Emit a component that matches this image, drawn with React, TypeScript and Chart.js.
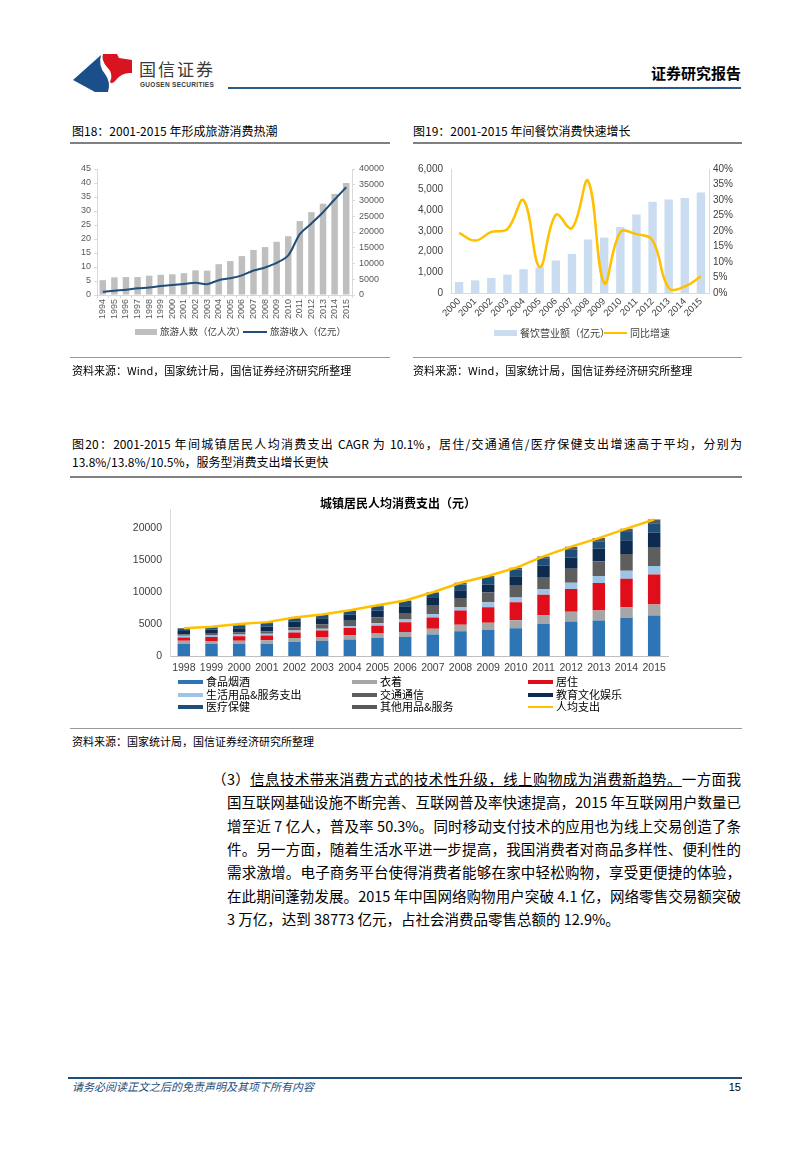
import React, { useEffect, useRef } from 'react';
import { Chart, registerables } from 'chart.js';

Chart.register(...registerables);

const CJK = '"Noto Sans CJK SC", "Noto Sans", sans-serif';
const LATIN = '"Liberation Sans", Arial, sans-serif';

// ---------- Figure 18 ----------
const tourYears = ['1994', '1995', '1996', '1997', '1998', '1999', '2000', '2001', '2002', '2003', '2004', '2005', '2006', '2007', '2008', '2009', '2010', '2011', '2012', '2013', '2014', '2015'];
const tourVisitors = [5.3, 6.3, 6.4, 6.4, 6.9, 7.2, 7.4, 7.8, 8.8, 8.7, 11.0, 12.1, 13.9, 16.1, 17.1, 19.0, 21.0, 26.4, 29.6, 32.6, 36.1, 40.0];
const tourRevenue = [1020, 1380, 1640, 2110, 2390, 2830, 3180, 3520, 3880, 3440, 4710, 5290, 6230, 7770, 8750, 10180, 12580, 19310, 22710, 26280, 30310, 34200];
const tourLeftTicks = [0, 5, 10, 15, 20, 25, 30, 35, 40, 45];
const tourRightTicks = [0, 5000, 10000, 15000, 20000, 25000, 30000, 35000, 40000];

// ---------- Figure 19 ----------
const cateringYears = ['2000', '2001', '2002', '2003', '2004', '2005', '2006', '2007', '2008', '2009', '2010', '2011', '2012', '2013', '2014', '2015'];
const cateringRevenue = [530, 610, 730, 890, 1150, 1240, 1570, 1890, 2590, 2680, 3190, 3800, 4410, 4520, 4600, 4860];
const cateringGrowth = [19.4, 16.9, 19.7, 20.6, 29.9, 8.4, 25.2, 20.9, 36.2, 3.2, 19.6, 19.0, 17.0, 1.6, 2.1, 5.4];

// ---------- Figure 20 ----------
const urbanYears = ['1998', '1999', '2000', '2001', '2002', '2003', '2004', '2005', '2006', '2007', '2008', '2009', '2010', '2011', '2012', '2013', '2014', '2015'];
const food = [1940, 1940, 1940, 1940, 2240, 2350, 2600, 2810, 2960, 3370, 3880, 4080, 4340, 5000, 5410, 5571, 6000, 6360];
const clothing = [460, 410, 460, 510, 570, 610, 670, 710, 820, 920, 1020, 1120, 1270, 1380, 1530, 1554, 1627, 1701];
const housing = [510, 610, 710, 760, 860, 1020, 1120, 1220, 1530, 1730, 2240, 2450, 2810, 3210, 3570, 4301, 4490, 4726];
const household = [250, 250, 260, 260, 310, 310, 300, 410, 400, 510, 560, 770, 760, 920, 970, 1129, 1233, 1306];
const transport = [210, 260, 300, 410, 510, 660, 820, 920, 1020, 1330, 1380, 1530, 1840, 1890, 2190, 2318, 2637, 2895];
const education = [560, 660, 670, 760, 920, 970, 970, 1020, 1080, 1240, 1220, 1270, 1480, 1780, 1790, 1988, 2142, 2383];
const healthcare = [300, 310, 400, 360, 460, 510, 610, 720, 800, 800, 920, 1020, 1020, 1130, 1270, 1136, 1306, 1443];
const otherGoods = [110, 150, 260, 310, 160, 80, 100, 130, 90, 100, 260, 310, 310, 300, 410, 490, 533, 578];
const perCapita = [4340, 4590, 5000, 5310, 6030, 6510, 7190, 7940, 8700, 10000, 11480, 12550, 13830, 15610, 17140, 18488, 19968, 21392];
const urbanTicks = [0, 5000, 10000, 15000, 20000];

const urbanSeries = [
  { label: '食品烟酒', data: food, color: '#2e75b6' },
  { label: '衣着', data: clothing, color: '#a6a6a6' },
  { label: '居住', data: housing, color: '#e00d1b' },
  { label: '生活用品&服务支出', data: household, color: '#9dc3e6' },
  { label: '交通通信', data: transport, color: '#5e5e5e' },
  { label: '教育文化娱乐', data: education, color: '#0d2b4e' },
  { label: '医疗保健', data: healthcare, color: '#1f4e79' },
  { label: '其他用品&服务', data: otherGoods, color: '#595959' },
];

function ChartBox({ config, left, top, width, height }: any) {
  const ref = useRef<HTMLCanvasElement>(null);
  useEffect(() => {
    const chart = new Chart(ref.current as HTMLCanvasElement, config);
    return () => chart.destroy();
  }, []);
  return (
    <div style={{ position: 'absolute', left, top, width, height }}>
      <canvas ref={ref} width={width} height={height} style={{ width, height, display: 'block' }} />
    </div>
  );
}

const tickFont = (size: number) => ({ family: LATIN, size });
const plain = (v: any) => String(v);

const fig18Config: any = {
  type: 'bar',
  data: {
    labels: tourYears,
    datasets: [
      { type: 'line', label: '旅游收入（亿元）', data: tourRevenue, yAxisID: 'y1', borderColor: '#1f4e79', borderWidth: 2, pointRadius: 0, tension: 0.3, order: 0 },
      { type: 'bar', label: '旅游人数（亿人次）', data: tourVisitors, yAxisID: 'y', backgroundColor: '#bfbfbf', barPercentage: 0.56, categoryPercentage: 1, order: 1 },
    ],
  },
  options: {
    responsive: false, animation: false, devicePixelRatio: 1,
    layout: { padding: { top: 14, left: 0, right: 0, bottom: 0 } },
    plugins: { legend: { display: false }, tooltip: { enabled: false } },
    scales: {
      x: {
        grid: { display: true, drawOnChartArea: false, offset: true, tickLength: 3, color: '#d9d9d9' },
        border: { color: '#d9d9d9' },
        ticks: { minRotation: 90, maxRotation: 90, autoSkip: false, font: tickFont(9), color: '#595959', padding: 1 },
        afterFit: (s: any) => { s.height = 30; },
      },
      y: {
        position: 'left', min: 0, max: 45,
        afterBuildTicks: (s: any) => { s.ticks = tourLeftTicks.map((v) => ({ value: v })); },
        ticks: { font: tickFont(9), color: '#595959', padding: 3, callback: plain },
        grid: { drawOnChartArea: false, tickLength: 3, color: '#d9d9d9' },
        border: { color: '#d9d9d9' },
        afterFit: (s: any) => { s.width = 25; },
      },
      y1: {
        position: 'right', min: 0, max: 40000,
        afterBuildTicks: (s: any) => { s.ticks = tourRightTicks.map((v) => ({ value: v })); },
        ticks: { font: tickFont(9), color: '#595959', padding: 4, callback: plain },
        grid: { drawOnChartArea: false, tickLength: 3, color: '#d9d9d9' },
        border: { color: '#d9d9d9' },
        afterFit: (s: any) => { s.width = 38; },
      },
    },
  },
};

const fig19Config: any = {
  type: 'bar',
  data: {
    labels: cateringYears,
    datasets: [
      { type: 'line', label: '同比增速', data: cateringGrowth, yAxisID: 'y1', borderColor: '#ffc000', borderWidth: 2.5, pointRadius: 0, tension: 0.4, order: 0 },
      { type: 'bar', label: '餐饮营业额（亿元）', data: cateringRevenue, yAxisID: 'y', backgroundColor: '#c9dcf0', barPercentage: 0.52, categoryPercentage: 1, order: 1 },
    ],
  },
  options: {
    responsive: false, animation: false, devicePixelRatio: 1,
    layout: { padding: { top: 9, left: 0, right: 0, bottom: 0 } },
    plugins: { legend: { display: false }, tooltip: { enabled: false } },
    scales: {
      x: {
        grid: { display: false, drawTicks: false },
        border: { color: '#d9d9d9' },
        ticks: { minRotation: 45, maxRotation: 45, autoSkip: false, font: tickFont(9.5), color: '#404040', padding: 3 },
        afterFit: (s: any) => { s.height = 32; },
      },
      y: {
        position: 'left', min: 0, max: 6000,
        ticks: { stepSize: 1000, font: tickFont(10), color: '#404040', padding: 8, callback: (v: any) => Number(v).toLocaleString('en-US') },
        grid: { display: false, drawTicks: false },
        border: { color: '#d9d9d9' },
        afterFit: (s: any) => { s.width = 46; },
      },
      y1: {
        position: 'right', min: 0, max: 40,
        ticks: { stepSize: 5, font: tickFont(10), color: '#404040', padding: 4, callback: (v: any) => v + '%' },
        grid: { display: false, drawTicks: false },
        border: { color: '#d9d9d9' },
        afterFit: (s: any) => { s.width = 33; },
      },
    },
  },
};

const fig20Config: any = {
  type: 'bar',
  data: {
    labels: urbanYears,
    datasets: [
      { type: 'line', label: '人均支出', data: perCapita, borderColor: '#ffc000', borderWidth: 2.5, pointRadius: 0, tension: 0, order: 0 },
      ...urbanSeries.map((s) => ({ type: 'bar', label: s.label, data: s.data, backgroundColor: s.color, barPercentage: 0.45, categoryPercentage: 1, order: 1 })),
    ],
  },
  options: {
    responsive: false, animation: false, devicePixelRatio: 1,
    layout: { padding: { top: 10, left: 0, right: 12, bottom: 0 } },
    plugins: { legend: { display: false }, tooltip: { enabled: false } },
    scales: {
      x: {
        stacked: true,
        grid: { display: false, drawTicks: false },
        border: { color: '#bfbfbf' },
        ticks: { autoSkip: false, maxRotation: 0, font: tickFont(10.5), color: '#404040', padding: 6 },
        afterFit: (s: any) => { s.height = 22; },
      },
      y: {
        stacked: true, min: 0, max: 23000,
        afterBuildTicks: (s: any) => { s.ticks = urbanTicks.map((v) => ({ value: v })); },
        ticks: { font: tickFont(10.5), color: '#404040', padding: 8, callback: plain },
        grid: { display: false, drawTicks: false },
        border: { color: '#d9d9d9' },
        afterFit: (s: any) => { s.width = 50; },
      },
    },
  },
};

const abs = (left: number, top: number, extra: any = {}) => ({ position: 'absolute' as const, left, top, ...extra });

function HLine({ x1, x2, y, color = '#999', w = 1 }: any) {
  return <div style={abs(x1, y, { width: x2 - x1, height: w, background: color })} />;
}

function Txt({ x, y, size, children, style = {} }: any) {
  return (
    <div style={abs(x, y - size * 0.7, { fontSize: size, lineHeight: `${size * 1.4}px`, whiteSpace: 'nowrap', fontFamily: CJK, color: '#000', ...style })}>
      {children}
    </div>
  );
}

function Swatch({ x, y, w, h, color }: any) {
  return <div style={abs(x, y - h / 2, { width: w, height: h, background: color })} />;
}

const paragraph = [
  '国互联网基础设施不断完善、互联网普及率快速提高，2015 年互联网用户数量已',
  '增至近 7 亿人，普及率 50.3%。同时移动支付技术的应用也为线上交易创造了条',
  '件。另一方面，随着生活水平进一步提高，我国消费者对商品多样性、便利性的',
  '需求激增。电子商务平台使得消费者能够在家中轻松购物，享受更便捷的体验，',
  '在此期间蓬勃发展。2015 年中国网络购物用户突破 4.1 亿，网络零售交易额突破',
];
const paraYs = [802, 826, 849, 872, 896];

export default function App() {
  const legend20Cols = [178, 352, 528];
  const legend20Rows = [682, 694.5, 707];
  const legendItems = [
    urbanSeries[0], urbanSeries[1], urbanSeries[2],
    urbanSeries[3], urbanSeries[4], urbanSeries[5],
    urbanSeries[6], urbanSeries[7], { label: '人均支出', color: '#ffc000' },
  ];
  return (
    <div style={{ position: 'absolute', left: 0, top: 0, width: 809, height: 1151, background: '#fff', overflow: 'hidden', fontFamily: CJK }}>
      {/* Header */}
      <svg style={abs(73, 53)} width={62} height={40} viewBox="0 0 62 40">
        <path d="M0,27 L28,2 Q25,13 32,21 Q38,29 35,39 L22,39 Z" fill="#1b4f8a" />
        <path d="M30,1 L44,1 L46,5 L59,7 L59,20 Q49,19 43,27 Q39,32 37,29 Q41,21 34,14 Q28,7 30,1 Z" fill="#d7141f" />
      </svg>
      <Txt x={139} y={69} size={17} style={{ color: '#3a3a3a', letterSpacing: 2 }}>国信证券</Txt>
      <Txt x={140} y={85} size={6.5} style={{ fontFamily: LATIN, fontWeight: 700, color: '#3a3a3a', letterSpacing: 0.3 }}>GUOSEN SECURITIES</Txt>
      <div style={abs(651, 63, { width: 90, textAlign: 'right', fontSize: 15, lineHeight: '20px', fontWeight: 700, color: '#000', whiteSpace: 'nowrap' })}>证券研究报告</div>
      <HLine x1={228} x2={741} y={87} color="#2a5a8c" w={2} />

      {/* Fig 18 */}
      <Txt x={72} y={131} size={12}>图18：2001-2015 年形成旅游消费热潮</Txt>
      <HLine x1={70} x2={390} y={142} color="#808080" w={1.5} />
      <ChartBox config={fig18Config} left={72} top={155} width={318} height={170} />
      <Swatch x={135} y={332} w={22} h={6} color="#bfbfbf" />
      <Txt x={160} y={332} size={9.5} style={{ color: '#404040' }}>旅游人数（亿人次）</Txt>
      <Swatch x={243} y={332} w={24} h={2} color="#1f4e79" />
      <Txt x={270} y={332} size={9.5} style={{ color: '#404040' }}>旅游收入（亿元）</Txt>
      <HLine x1={70} x2={390} y={357} color="#999" />
      <Txt x={72} y={371} size={11}>资料来源：Wind，国家统计局，国信证券经济研究所整理</Txt>

      {/* Fig 19 */}
      <Txt x={413} y={131} size={12}>图19：2001-2015 年间餐饮消费快速增长</Txt>
      <HLine x1={413} x2={742} y={142} color="#808080" w={1.5} />
      <ChartBox config={fig19Config} left={405} top={155} width={337} height={170} />
      <Swatch x={494} y={333} w={23} h={6} color="#c9dcf0" />
      <Txt x={520} y={333} size={10} style={{ color: '#404040' }}>餐饮营业额（亿元）</Txt>
      <Swatch x={604} y={333} w={23} h={2.5} color="#ffc000" />
      <Txt x={630} y={333} size={10} style={{ color: '#404040' }}>同比增速</Txt>
      <HLine x1={413} x2={742} y={357} color="#999" />
      <Txt x={413} y={371} size={11}>资料来源：Wind，国家统计局，国信证券经济研究所整理</Txt>

      {/* Fig 20 */}
      <div style={abs(72, 435, { width: 670, fontSize: 12, lineHeight: '18px', textAlign: 'justify', textAlignLast: 'justify', whiteSpace: 'nowrap', color: '#000' })}>
        图20：2001-2015 年间城镇居民人均消费支出 CAGR 为 10.1%，居住/交通通信/医疗保健支出增速高于平均，分别为
      </div>
      <Txt x={72} y={462} size={12}>13.8%/13.8%/10.5%，服务型消费支出增长更快</Txt>
      <HLine x1={70} x2={742} y={476} color="#808080" w={1.5} />
      <ChartBox config={fig20Config} left={120} top={495} width={560} height={183} />
      <div style={abs(318, 494, { width: 160, textAlign: 'center', fontSize: 12, lineHeight: '18px', fontWeight: 700, color: '#000', whiteSpace: 'nowrap' })}>城镇居民人均消费支出（元）</div>
      {legendItems.map((it, i) => {
        const x = legend20Cols[i % 3];
        const y = legend20Rows[Math.floor(i / 3)];
        return (
          <React.Fragment key={i}>
            <Swatch x={x} y={y} w={25} h={it.label === '人均支出' ? 2.5 : 4} color={it.color} />
            <Txt x={x + 28} y={y} size={11} style={{ color: '#000' }}>{it.label}</Txt>
          </React.Fragment>
        );
      })}
      <HLine x1={70} x2={742} y={728} color="#999" />
      <Txt x={72} y={742} size={11}>资料来源：国家统计局，国信证券经济研究所整理</Txt>

      {/* Paragraph */}
      <div style={abs(212, 769, { width: 529, fontSize: 14.5, lineHeight: '20px', textAlign: 'justify', textAlignLast: 'justify', whiteSpace: 'nowrap', color: '#000' })}>
        （3）<span style={{ textDecoration: 'underline' }}>信息技术带来消费方式的技术性升级，线上购物成为消费新趋势。</span>一方面我
      </div>
      {paragraph.map((line, i) => (
        <div key={i} style={abs(227, paraYs[i] - 10, { width: 514, fontSize: 14.5, lineHeight: '20px', textAlign: 'justify', textAlignLast: 'justify', whiteSpace: 'nowrap', color: '#000' })}>
          {line}
        </div>
      ))}
      <div style={abs(227, 909, { fontSize: 14.5, lineHeight: '20px', whiteSpace: 'nowrap', color: '#000' })}>
        3 万亿，达到 38773 亿元，占社会消费品零售总额的 12.9%。
      </div>

      {/* Footer */}
      <HLine x1={68} x2={742} y={1077} color="#1f4e79" w={1.5} />
      <Txt x={72} y={1087} size={11} style={{ color: '#1f4e79', fontStyle: 'italic' }}>请务必阅读正文之后的免责声明及其项下所有内容</Txt>
      <div style={abs(700, 1079, { width: 41, textAlign: 'right', fontSize: 11, lineHeight: '16px', fontFamily: LATIN, color: '#000' })}>15</div>
    </div>
  );
}
